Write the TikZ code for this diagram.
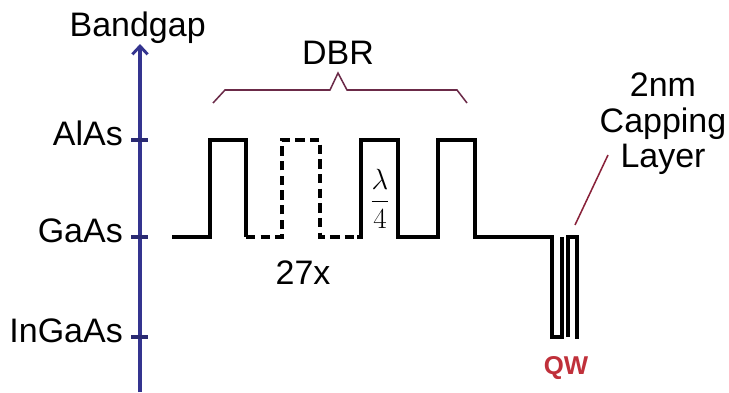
\documentclass[tikz,border=0pt]{standalone}
\usepackage{amsmath}
\usepackage{fontspec}
\setmainfont{Liberation Sans}
\usetikzlibrary{positioning,arrows.meta}
\definecolor{axisblue}{HTML}{34348F}
\definecolor{bracemaroon}{HTML}{6B2A48}
\definecolor{qwred}{HTML}{C0303A}

\begin{document}
\begin{tikzpicture}[
    x=0.03cm, y=-0.03cm,
    axisStyle/.style={draw=axisblue, line width=4pt, -{Straight Barb[length=7pt, width=13pt, line width=2.5pt]}},
    tickStyle/.style={draw=axisblue!80!black, line width=3.5pt},
    levelStyle/.style={font=\fontsize{29}{30}\selectfont, inner sep=0pt},
    bandStyle/.style={draw=black, line width=3pt, line join=miter},
    dashStyle/.style={bandStyle, dash pattern=on 8pt off 4.5pt},
    braceStyle/.style={draw=bracemaroon, line width=1.3pt},
    pointerStyle/.style={draw=bracemaroon!80!red, line width=1.3pt}
]
    \useasboundingbox[fill=white] (0,0) rectangle (729,392);

    \coordinate (axisBot) at (140,392);
    \coordinate (axisTop) at (140,44);
    \draw[axisStyle] (axisBot) -- (axisTop);
    \node[levelStyle, above=0pt of axisTop, xshift=-2pt] (bandgap) {Bandgap};

    \foreach \lvl/\name/\yy in {alas/AlAs/140, gaas/GaAs/237, ingaas/InGaAs/337} {
        \draw[tickStyle] (131,\yy) -- (148,\yy);
        \node[levelStyle, anchor=base east] (lbl\lvl) at (123,\yy+5) {\name};
    }

    \draw[bandStyle] (172,237) -- (210,237) -- (210,140) -- (246,140) -- (246,237);
    \draw[dashStyle] (246,237) -- (282,237) -- (282,140) -- (320,140) -- (320,237) -- (357,237);
    \draw[bandStyle] (357,237) -- (361,237) -- (361,140) -- (398,140) -- (398,237) -- (438,237)
        -- (438,140) -- (475,140) -- (475,237) -- (552,237) -- (552,337) -- (562,337) -- (562,237);
    \draw[bandStyle] (568,337) -- (568,237) -- (577,237) -- (577,339);

    \node[levelStyle, font=\fontsize{27}{30}\selectfont] (quarter) at (380,199) {$\dfrac{\lambda}{4}$};
    \node[levelStyle] (reps) at (303,273) {27x};

    \coordinate (braceL) at (213,103);
    \coordinate (braceTip) at (338,73);
    \coordinate (braceR) at (467,103);
    \draw[braceStyle] (braceL) -- (225,90) -- (330,90) -- (braceTip) -- (347,90) -- (457,90) -- (braceR);
    \node[levelStyle, above=0.24cm of braceTip] (dbr) {DBR};

    \node[levelStyle, align=center, anchor=north] (cap) at (663,73) {2nm\\Capping\\Layer};
    \coordinate (capFrom) at (608,155);
    \coordinate (capTip) at (575,225);
    \draw[pointerStyle] (capFrom) -- (capTip);

    \node[font=\fontsize{22}{26}\selectfont\bfseries, text=qwred, inner sep=0pt] (qw) at (566,368) {QW};
\end{tikzpicture}
\end{document}
